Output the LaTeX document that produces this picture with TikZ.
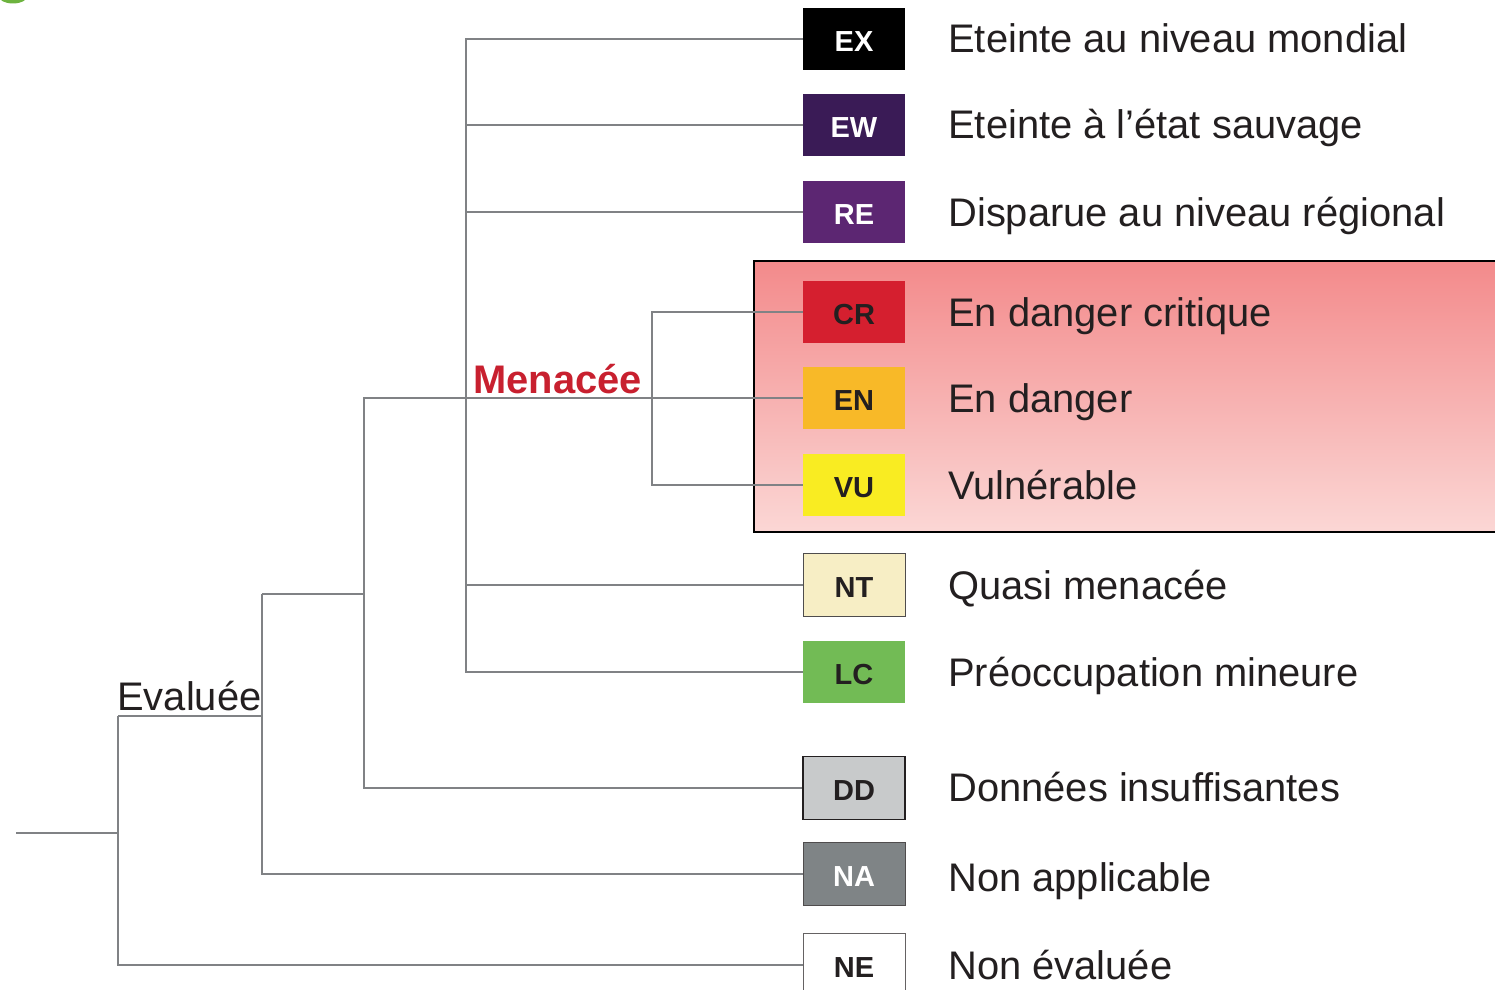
\documentclass[tikz,border=0pt]{standalone}
\usepackage{fontspec}
\setmainfont{Liberation Sans}
\definecolor{ink}{HTML}{231F20}
\definecolor{linegray}{HTML}{808285}
\definecolor{cEX}{HTML}{000000}
\definecolor{cEW}{HTML}{3A1B56}
\definecolor{cRE}{HTML}{5C2672}
\definecolor{cCR}{HTML}{D51F2F}
\definecolor{cEN}{HTML}{F8B928}
\definecolor{cVU}{HTML}{F9EC22}
\definecolor{cNT}{HTML}{F7EEC5}
\definecolor{cLC}{HTML}{72BB55}
\definecolor{cDD}{HTML}{C8CACB}
\definecolor{cNA}{HTML}{7F8486}
\definecolor{menred}{HTML}{C8202F}
\definecolor{gtop}{HTML}{F38A8B}
\definecolor{gbot}{HTML}{FBD7D5}
\definecolor{leaf}{HTML}{6DB33F}
\begin{document}
\begin{tikzpicture}[x=0.02cm,y=-0.02cm,
  badge/.style={minimum width=2.04cm, minimum height=1.26cm, inner sep=0pt,
    font=\bfseries\fontsize{16.5}{18}\selectfont, text=ink, text height=14.2pt, text depth=0pt},
  lab/.style={anchor=base west, inner sep=0pt, font=\fontsize{22.7}{27}\selectfont, text=ink},
  branch/.style={draw=linegray, line width=0.8pt}]
\useasboundingbox (0,0) rectangle (1495,990);
% top-left green mark
\fill[leaf] (13,-5) ellipse [x radius=15, y radius=8.5];
% threatened box
\node[draw=black, line width=1.2pt, top color=gtop, bottom color=gbot,
  minimum width=15.22cm, minimum height=5.42cm, inner sep=0pt] (threat) at (1134.5,396.5) {};
% badges
\node[badge, fill=cEX, text=white] (ex) at (854,39) {EX};
\node[badge, fill=cEW, text=white] (ew) at (854,125) {EW};
\node[badge, fill=cRE, text=white] (re) at (854,212) {RE};
\node[badge, fill=cCR] (cr) at (854,312) {CR};
\node[badge, fill=cEN] (en) at (854,398) {EN};
\node[badge, fill=cVU] (vu) at (854,485) {VU};
\node[badge, fill=cNT, draw=ink!80, line width=0.5pt] (nt) at (854,585) {NT};
\node[badge, fill=cLC] (lc) at (854,672) {LC};
\node[badge, fill=cDD, draw=ink, line width=0.6pt] (dd) at (854,788) {DD};
\node[badge, fill=cNA, text=white, draw=ink!80, line width=0.5pt] (na) at (854,874) {NA};
\node[badge, fill=white, draw=ink!70, line width=0.5pt] (ne) at (854,965) {NE};
% labels
\node[lab] (exl) at (948,53) {Eteinte au niveau mondial};
\node[lab] (ewl) at (948,139) {Eteinte à l’état sauvage};
\node[lab] (rel) at (948,226) {Disparue au niveau régional};
\node[lab] (crl) at (948,326) {En danger critique};
\node[lab] (enl) at (948,412) {En danger};
\node[lab] (vul) at (948,499) {Vulnérable};
\node[lab] (ntl) at (948,599) {Quasi menacée};
\node[lab] (lcl) at (948,686) {Préoccupation mineure};
\node[lab] (ddl) at (948,801) {Données insuffisantes};
\node[lab] (nal) at (948,891) {Non applicable};
\node[lab] (nel) at (948,979) {Non évaluée};
\node[lab, font=\bfseries\fontsize{22.7}{27}\selectfont, text=menred] (men) at (473,393) {Menacée};
\node[lab] (eva) at (117,710) {Evaluée};
% junction coordinates
\coordinate (xd) at (466,0);
\coordinate (xe) at (652,0);
\coordinate (xa) at (364,0);
\coordinate (evm) at (262,594);
\coordinate (evj) at (118,716);
\coordinate (root) at (16,833);
% tree
\draw[branch] (ex.west) -| (xd |- lc.west) -- (lc.west);
\draw[branch] (ew.west) -- (ew.west -| xd);
\draw[branch] (re.west) -- (re.west -| xd);
\draw[branch] (nt.west) -- (nt.west -| xd);
\draw[branch] (cr.west) -| (xe |- vu.west) -- (vu.west);
\draw[branch] (en.west) -| (xa |- dd.west) -- (dd.west);
\draw[branch] (evm) -- (evm -| xa);
\draw[branch] (evm) |- (na.west);
\draw[branch] (evj) -- (evj -| evm);
\draw[branch] (evj) |- (ne.west);
\draw[branch] (root) -- (root -| evj);
\end{tikzpicture}
\end{document}
